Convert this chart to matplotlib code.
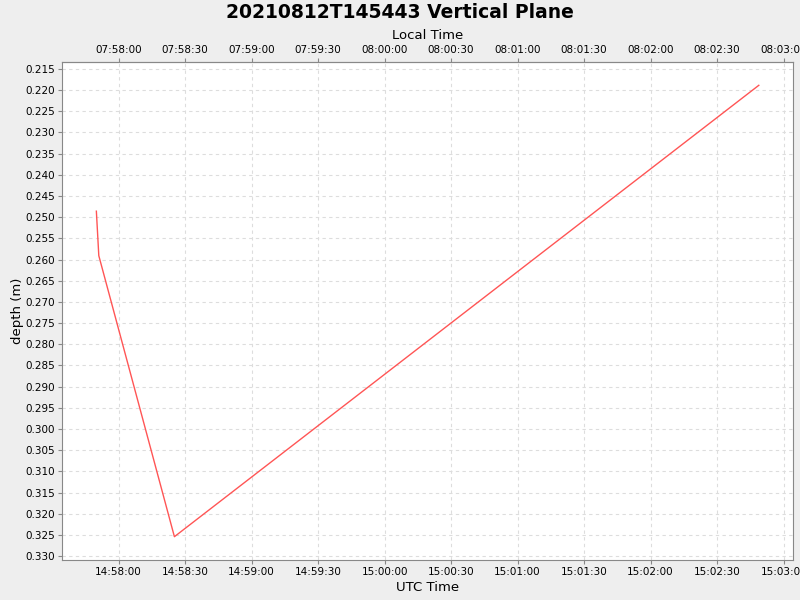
import matplotlib
matplotlib.use("Agg")
import matplotlib.pyplot as plt
import matplotlib.dates as mdates
import matplotlib.ticker as mticker
from datetime import datetime, timedelta

# data
times_utc = ["2021-08-12 14:57:50.0", "2021-08-12 14:57:51.1",
             "2021-08-12 14:58:25.2", "2021-08-12 15:02:48.8"]
depth_m = [0.2486, 0.2591, 0.3254, 0.2189]
local_offset_h = -7
title = "20210812T145443 Vertical Plane"

t = [datetime.strptime(s, "%Y-%m-%d %H:%M:%S.%f") for s in times_utc]

fig = plt.figure(figsize=(8, 6), dpi=100, facecolor="#eeeeee")
ax = fig.add_axes([62/800, 1-560/600, (792.5-62)/800, (560-62)/600])
ax.set_facecolor("white")

ax.plot(t, depth_m, color="#ff5555", lw=1)

ax.set_xlim(datetime(2021, 8, 12, 14, 57, 34, 500000), datetime(2021, 8, 12, 15, 3, 4))
ax.set_ylim(0.3309, 0.2134)
ax.yaxis.set_major_locator(mticker.MultipleLocator(0.005))
ax.yaxis.set_major_formatter(mticker.FormatStrFormatter("%.3f"))
ax.xaxis.set_major_locator(mdates.SecondLocator(bysecond=[0, 30]))
ax.xaxis.set_major_formatter(mdates.DateFormatter("%H:%M:%S"))

off = local_offset_h / 24.0
top = ax.secondary_xaxis("top", functions=(lambda x: x + off, lambda x: x - off))
top.xaxis.set_major_locator(mdates.SecondLocator(bysecond=[0, 30]))
top.xaxis.set_major_formatter(mdates.DateFormatter("%H:%M:%S"))
top.set_xlabel("Local Time", fontsize=9.5, labelpad=4)
top.tick_params(labelsize=7.5, length=3, color="#888888", pad=2)
top.spines["top"].set_color("#888888")

ax.grid(True, ls=(0, (3, 3)), color="#dddddd", lw=0.8)
for s in ax.spines.values():
    s.set_color("#888888")
ax.tick_params(labelsize=7.5, length=3, color="#888888", pad=2)

ax.set_xlabel("UTC Time", fontsize=9.5, labelpad=3)
ax.set_ylabel("depth (m)", fontsize=9.5, labelpad=1)
fig.suptitle(title, fontsize=13.5, fontweight="bold", y=0.995)

fig.savefig("out.png", dpi=100, facecolor=fig.get_facecolor())
